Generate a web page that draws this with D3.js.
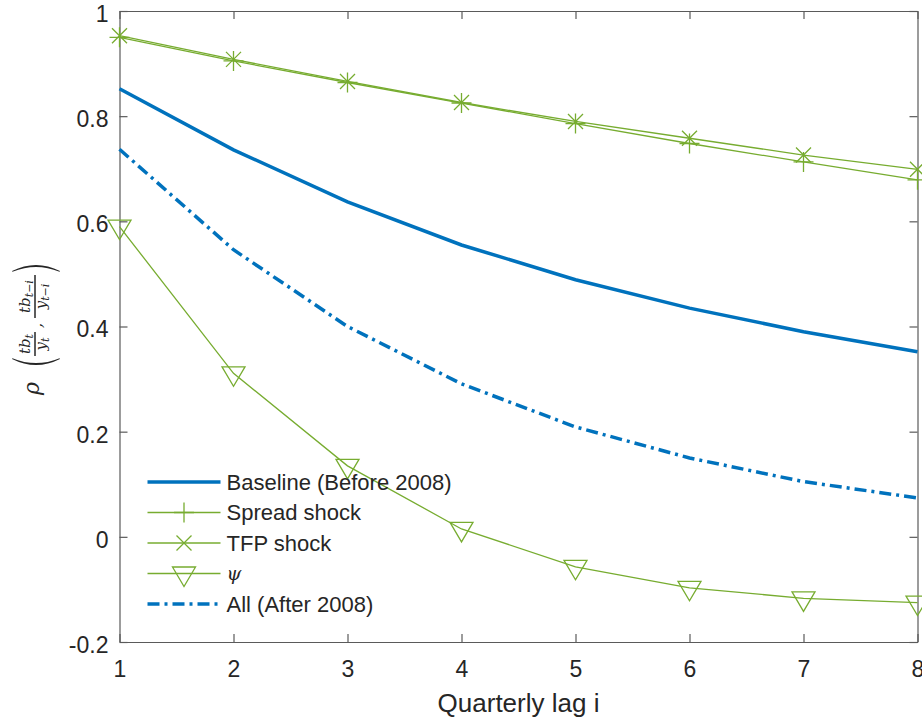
<!DOCTYPE html>
<html>
<head>
<meta charset="utf-8">
<script src="https://cdn.jsdelivr.net/npm/d3@7"></script>
<style>
  html, body { margin: 0; padding: 0; background: #fff; }
  svg { display: block; }
  text { font-family: "Liberation Sans", Arial, Helvetica, sans-serif; fill: #262626; }
  .math { font-family: "DejaVu Serif", "Liberation Serif", serif; font-style: italic; }
</style>
</head>
<body>
<svg id="chart" width="922" height="721"></svg>
<script>
// Autocorrelation of tb/y at quarterly lags 1..8
const lags = [1, 2, 3, 4, 5, 6, 7, 8];
const baseline = [0.852, 0.736, 0.637, 0.555, 0.489, 0.435, 0.390, 0.352];
const spreadShock = [0.950, 0.905, 0.864, 0.825, 0.786, 0.748, 0.713, 0.679];
const tfpShock = [0.953, 0.908, 0.866, 0.826, 0.790, 0.758, 0.726, 0.699];
const psiShock = [0.590, 0.311, 0.135, 0.015, -0.057, -0.097, -0.117, -0.125];
const allAfter = [0.737, 0.546, 0.400, 0.291, 0.209, 0.150, 0.105, 0.074];
const yTicks = [-0.2, 0, 0.2, 0.4, 0.6, 0.8, 1];
const legendLabels = ["Baseline (Before 2008)", "Spread shock", "TFP shock", "ψ", "All (After 2008)"];

const BLUE = "#0072BD", GREEN = "#77AC30", AXIS = "#262626";

const svg = d3.select("#chart");
const plotLeft = 119.5, plotRight = 917.5, plotTop = 11, plotBottom = 642;
const x = d3.scaleLinear().domain([1, 8]).range([plotLeft, plotRight]);
const y = d3.scaleLinear().domain([-0.2, 1]).range([plotBottom, plotTop]);

// axes box with inward ticks on all sides
const fmt = d => String(+d.toFixed(1));
const gx = svg.append("g").attr("transform", `translate(0,${plotBottom})`)
  .call(d3.axisBottom(x).tickValues(lags).tickSizeInner(-8).tickSizeOuter(0).tickPadding(19).tickFormat(d3.format("d")));
const gxt = svg.append("g").attr("transform", `translate(0,${plotTop})`)
  .call(d3.axisTop(x).tickValues(lags).tickSizeInner(-8).tickSizeOuter(0).tickFormat(""));
const gy = svg.append("g").attr("transform", `translate(${plotLeft},0)`)
  .call(d3.axisLeft(y).tickValues(yTicks).tickSizeInner(-8).tickSizeOuter(0).tickPadding(11).tickFormat(fmt));
const gyr = svg.append("g").attr("transform", `translate(${plotRight},0)`)
  .call(d3.axisRight(y).tickValues(yTicks).tickSizeInner(-8).tickSizeOuter(0).tickFormat(""));
[gx, gxt, gy, gyr].forEach(g => {
  g.select(".domain").attr("stroke", "#5a5a5a").attr("stroke-width", 1.2);
  g.selectAll(".tick line").attr("stroke", "#5a5a5a").attr("stroke-width", 1.2);
  g.selectAll(".tick text").attr("fill", AXIS).style("font-size", "23px")
    .style("font-family", "'Liberation Sans', Arial, sans-serif");
});
gy.selectAll(".tick text").attr("dy", "0.45em");

// x-axis title
svg.append("text").attr("x", (plotLeft + plotRight) / 2).attr("y", 712)
  .attr("text-anchor", "middle").style("font-size", "26px").text("Quarterly lag i");

// y-axis title: rho(tb_t/y_t, tb_{t-i}/y_{t-i})
const yl = svg.append("g").attr("transform", "translate(36,329) rotate(-90)");
yl.append("text").attr("class", "math").attr("x", -66).attr("y", 3).style("font-size", "22px").text("ρ");
function paren(cx, dir) {
  const h = 24, o = 9 * dir, i = 6 * dir;
  yl.append("path")
    .attr("d", `M${cx + 3 * dir},${-h} Q${cx - o},0 ${cx + 3 * dir},${h} L${cx + 3.8 * dir},${h - 0.5} Q${cx - i},0 ${cx + 3.8 * dir},${-h + 0.5} Z`)
    .attr("fill", AXIS);
}
paren(-33, 1);
paren(61, -1);
function frac(x0, x1, num, numSub, den, denSub) {
  const cx = (x0 + x1) / 2;
  yl.append("line").attr("x1", x0).attr("x2", x1).attr("y1", -1).attr("y2", -1)
    .attr("stroke", AXIS).attr("stroke-width", 1.5);
  const n = yl.append("text").attr("class", "math").attr("x", cx).attr("y", -6)
    .attr("text-anchor", "middle").style("font-size", "15px");
  n.append("tspan").text(num);
  n.append("tspan").attr("dy", 3).style("font-size", "11px").text(numSub);
  const d = yl.append("text").attr("class", "math").attr("x", cx).attr("y", 10)
    .attr("text-anchor", "middle").style("font-size", "15px");
  d.append("tspan").text(den);
  d.append("tspan").attr("dy", 3).style("font-size", "11px").text(denSub);
}
frac(-27, -3, "tb", "t", "y", "t");
yl.append("text").attr("class", "math").attr("x", 1).attr("y", 6).style("font-size", "16px").text(",");
frac(11, 54, "tb", "t−i", "y", "t−i");

// marker shapes
function plusPath(px, py) { return `M${px - 10},${py}H${px + 10}M${px},${py - 10}V${py + 10}`; }
function crossPath(px, py) { const s = 7.5; return `M${px - s},${py - s}L${px + s},${py + s}M${px - s},${py + s}L${px + s},${py - s}`; }
function triPath(px, py) { return `M${px - 11.5},${py - 6.5}H${px + 11.5}L${px},${py + 13}Z`; }

const plotG = svg.append("g");
const line = d3.line().x((d, i) => x(lags[i])).y(d => y(d));

const series = [
  { data: baseline, color: BLUE, width: 3.5, dash: null, marker: null },
  { data: spreadShock, color: GREEN, width: 1.3, dash: null, marker: plusPath },
  { data: tfpShock, color: GREEN, width: 1.3, dash: null, marker: crossPath },
  { data: psiShock, color: GREEN, width: 1.3, dash: null, marker: triPath },
  { data: allAfter, color: BLUE, width: 3.5, dash: "12,5,3,5", marker: null }
];

series.forEach(s => {
  plotG.append("path").attr("d", line(s.data)).attr("fill", "none")
    .attr("stroke", s.color).attr("stroke-width", s.width)
    .attr("stroke-dasharray", s.dash);
  if (s.marker) {
    plotG.selectAll(null).data(s.data).enter().append("path")
      .attr("d", (d, i) => s.marker(x(lags[i]), y(d)))
      .attr("fill", "none").attr("stroke", s.color).attr("stroke-width", 1.3);
  }
});

// legend (no box)
const lg = svg.append("g");
const rowY = i => 482 + i * 30.5;
series.forEach((s, i) => {
  const ry = rowY(i);
  lg.append("line").attr("x1", 147.5).attr("x2", 220.5).attr("y1", ry).attr("y2", ry)
    .attr("stroke", s.color).attr("stroke-width", s.width).attr("stroke-dasharray", s.dash);
  if (s.marker) {
    lg.append("path").attr("d", s.marker(184, ry)).attr("fill", "none")
      .attr("stroke", s.color).attr("stroke-width", 1.3);
  }
  const t = lg.append("text").attr("x", 226.5).attr("y", ry).attr("dy", "0.36em")
    .style("font-size", "22px").text(legendLabels[i]);
  if (legendLabels[i] === "ψ") t.attr("class", "math").style("font-size", "19px");
});
</script>
</body>
</html>
